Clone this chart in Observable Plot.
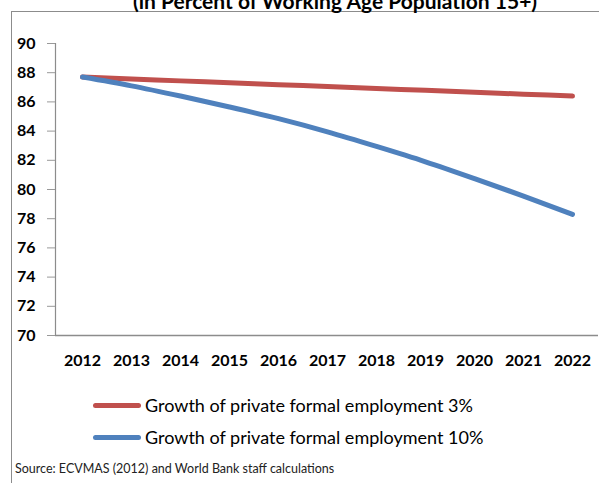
<!DOCTYPE html>
<html>
<head>
<meta charset="utf-8">
<script src="https://cdn.jsdelivr.net/npm/d3@7"></script>
<script src="https://cdn.jsdelivr.net/npm/@observablehq/plot@0.6"></script>
<style>
  html, body { margin: 0; padding: 0; background: #fff; }
  body { width: 599px; height: 483px; overflow: hidden; position: relative; font-family: Lato, "Open Sans", sans-serif; }
  #title { position: absolute; left: 0; width: 670px; top: -12px; text-align: center; font-weight: bold; font-size: 21px; color: #000; white-space: nowrap; }
  #box { position: absolute; left: 11px; top: 11px; width: 700px; height: 600px; border-left: 1.5px solid #8c8c8c; border-top: 1.5px solid #8c8c8c; }
  #chart { position: absolute; left: 0; top: 0; }
  #legend { position: absolute; left: 93px; top: 389px; font-size: 18px; color: #000; }
  .item { display: flex; align-items: center; height: 32px; }
  .sw { width: 48px; height: 5px; border-radius: 3px; margin-right: 4px; }
  #source { position: absolute; left: 15px; top: 461px; font-size: 12.5px; color: #222; }
</style>
</head>
<body>
<div id="box"></div>
<div id="title">(in Percent of Working Age Population 15+)</div>
<div id="chart"></div>
<div id="legend"></div>
<div id="source">Source: ECVMAS (2012) and World Bank staff calculations</div>
<script>
const years = ["2012","2013","2014","2015","2016","2017","2018","2019","2020","2021","2022"];
const growth3 = [87.7, 87.57, 87.44, 87.31, 87.18, 87.05, 86.92, 86.79, 86.66, 86.53, 86.4];
const growth10 = [87.7, 87.1, 86.4, 85.65, 84.85, 83.95, 82.95, 81.9, 80.75, 79.55, 78.3];
const seriesNames = ["Growth of private formal employment 3%", "Growth of private formal employment 10%"];
const seriesColors = ["#C0504D", "#4F81BD"];
const yTicks = [70, 72, 74, 76, 78, 80, 82, 84, 86, 88, 90];

const data = [];
[growth3, growth10].forEach((vals, s) => {
  vals.forEach((v, i) => data.push({year: years[i], value: v, series: seriesNames[s]}));
});

const chart = Plot.plot({
  width: 599,
  height: 378,
  marginLeft: 55,
  marginRight: 1,
  marginTop: 43,
  marginBottom: 43,
  style: {fontFamily: "Lato, 'Open Sans', sans-serif", background: "transparent"},
  x: {type: "point", domain: years, padding: 0.5, label: null},
  y: {domain: [70, 90], label: null},
  color: {domain: seriesNames, range: seriesColors},
  marks: [
    Plot.frame({anchor: "left", stroke: "#8c8c8c", strokeWidth: 1.2}),
    Plot.ruleY([70], {stroke: "#8c8c8c", strokeWidth: 1.5}),
    Plot.axisY({ticks: yTicks, tickSize: 8, tickPadding: 12, stroke: "#999", fontSize: 16, fontWeight: "bold", fill: "#000", label: null}),
    Plot.axisX({tickSize: 0, tickPadding: 19, fontSize: 16, fontWeight: "bold", fill: "#000", label: null}),
    Plot.line(data, {x: "year", y: "value", z: "series", stroke: "series", strokeWidth: 5, strokeLinecap: "round", strokeLinejoin: "round", curve: "monotone-x"})
  ]
});
document.getElementById("chart").appendChild(chart);

const legend = document.getElementById("legend");
seriesNames.forEach((name, i) => {
  const row = document.createElement("div");
  row.className = "item";
  const sw = document.createElement("div");
  sw.className = "sw";
  sw.style.background = seriesColors[i];
  const t = document.createElement("span");
  t.textContent = name;
  row.appendChild(sw);
  row.appendChild(t);
  legend.appendChild(row);
});
</script>
</body>
</html>
